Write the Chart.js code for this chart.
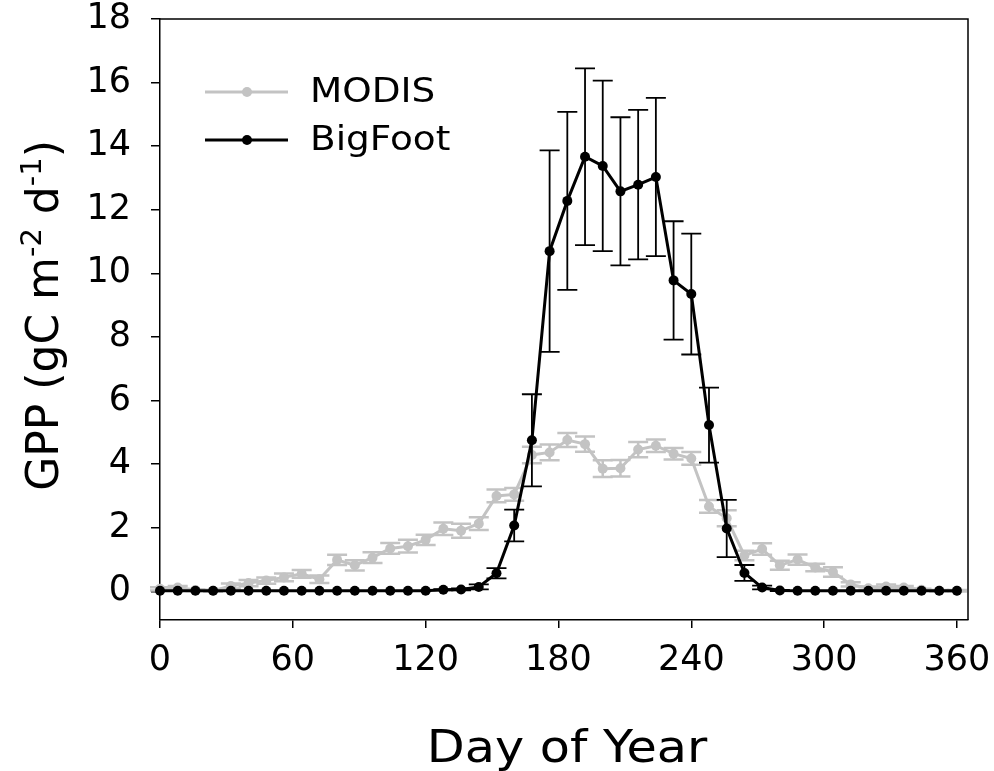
<!DOCTYPE html>
<html>
<head>
<meta charset="utf-8">
<title>GPP MODIS vs BigFoot</title>
<script src="https://cdn.jsdelivr.net/npm/chart.js@4.4.1/dist/chart.umd.min.js"></script>
<style>
  html, body { margin: 0; padding: 0; background: #fff; }
  #wrap { width: 994px; height: 771px; }
</style>
</head>
<body>
<div id="wrap"><canvas id="chart" width="994" height="771"></canvas></div>
<script>
// 8-day composites, day of year
const days = [0, 8, 16, 24, 32, 40, 48, 56, 64, 72, 80, 88, 96, 104, 112, 120,
  128, 136, 144, 152, 160, 168, 176, 184, 192, 200, 208, 216, 224, 232, 240,
  248, 256, 264, 272, 280, 288, 296, 304, 312, 320, 328, 336, 344, 352, 360];

const modisGpp = [0.08, 0.12, 0.04, 0.02, 0.17, 0.26, 0.34, 0.44, 0.55, 0.38, 0.99, 0.82, 1.06, 1.35, 1.42, 1.62,
  1.97, 1.91, 2.13, 3.00, 3.05, 4.29, 4.37, 4.76, 4.63, 3.86, 3.87, 4.46, 4.58, 4.33, 4.18,
  2.67, 2.30, 1.13, 1.33, 0.82, 1.00, 0.75, 0.61, 0.22, 0.10, 0.15, 0.12, 0.05, 0.02, 0.02];
const modisErr = [0.05, 0.05, 0.03, 0.03, 0.08, 0.10, 0.10, 0.12, 0.12, 0.12, 0.16, 0.16, 0.17, 0.17, 0.20, 0.16,
  0.20, 0.22, 0.20, 0.20, 0.20, 0.26, 0.25, 0.22, 0.24, 0.26, 0.26, 0.24, 0.20, 0.18, 0.20,
  0.20, 0.25, 0.15, 0.18, 0.14, 0.16, 0.12, 0.15, 0.07, 0.05, 0.07, 0.05, 0.03, 0.02, 0.02];

const bigfootGpp = [0.02, 0.02, 0.02, 0.02, 0.02, 0.02, 0.02, 0.02, 0.02, 0.02, 0.02, 0.02, 0.02, 0.02, 0.02, 0.02,
  0.05, 0.06, 0.14, 0.57, 2.07, 4.75, 10.70, 12.28, 13.67, 13.38, 12.58, 12.79, 13.03, 9.78, 9.35,
  5.23, 1.98, 0.58, 0.12, 0.03, 0.02, 0.02, 0.02, 0.02, 0.02, 0.02, 0.02, 0.02, 0.02, 0.02];
const bigfootErr = [0, 0, 0, 0, 0, 0, 0, 0, 0, 0, 0, 0, 0, 0, 0, 0,
  0.02, 0.03, 0.08, 0.16, 0.50, 1.45, 3.17, 2.80, 2.78, 2.68, 2.33, 2.35, 2.49, 1.86, 1.90,
  1.18, 0.90, 0.25, 0.06, 0.02, 0, 0, 0, 0, 0, 0, 0, 0, 0, 0];

const xTicks = [0, 60, 120, 180, 240, 300, 360];
const yTicks = [0, 2, 4, 6, 8, 10, 12, 14, 16, 18];

const FONT = "'DejaVu Sans', Verdana, sans-serif";
const GREY = '#c3c3c3';

function toPoints(vals) {
  return days.map((d, i) => ({ x: d, y: vals[i] }));
}

// draws the error bars of a dataset just before its line
const errorBars = {
  id: 'errorBars',
  beforeDatasetDraw(chart, args) {
    const ds = chart.data.datasets[args.index];
    if (!ds.errors) return;
    const xs = chart.scales.x, ys = chart.scales.y, ctx = chart.ctx;
    const cap = ds.capHalf;
    ctx.save();
    ctx.strokeStyle = ds.errorColor;
    ctx.lineWidth = ds.errorWidth;
    ds.data.forEach((p, i) => {
      const e = ds.errors[i];
      if (!e) return;
      const px = xs.getPixelForValue(p.x);
      const top = ys.getPixelForValue(p.y + e);
      const bot = ys.getPixelForValue(p.y - e);
      ctx.beginPath();
      ctx.moveTo(px, top); ctx.lineTo(px, bot);
      ctx.moveTo(px - cap, top); ctx.lineTo(px + cap, top);
      ctx.moveTo(px - cap, bot); ctx.lineTo(px + cap, bot);
      ctx.stroke();
    });
    ctx.restore();
  }
};

// frame, axis titles and legend
const decorations = {
  id: 'decorations',
  afterDraw(chart) {
    const ctx = chart.ctx, a = chart.chartArea;
    ctx.save();
    ctx.strokeStyle = '#000';
    ctx.lineWidth = 1.5;
    ctx.beginPath();
    ctx.moveTo(a.left, a.top);
    ctx.lineTo(a.right, a.top);
    ctx.lineTo(a.right, a.bottom);
    ctx.stroke();

    ctx.fillStyle = '#000';
    // x title (the original lettering is a bit wider than DejaVu)
    ctx.save();
    ctx.font = '44px ' + FONT;
    ctx.textAlign = 'center';
    ctx.textBaseline = 'alphabetic';
    ctx.translate((a.left + a.right) / 2 + 3, 762);
    ctx.scale(1.12, 1);
    ctx.fillText('Day of Year', 0, 0);
    ctx.restore();

    // y title with superscripts
    const parts = [['GPP (gC m', false], ['-2', true], [' d', false], ['-1', true], [')', false]];
    const big = '44px ' + FONT, small = '29px ' + FONT;
    let total = 0;
    parts.forEach(p => { ctx.font = p[1] ? small : big; total += ctx.measureText(p[0]).width; });
    ctx.translate(58, (a.top + a.bottom) / 2 - 4);
    ctx.rotate(-Math.PI / 2);
    ctx.textAlign = 'left';
    let cx = -total / 2;
    parts.forEach(p => {
      ctx.font = p[1] ? small : big;
      ctx.fillText(p[0], cx, p[1] ? -17 : 0);
      cx += ctx.measureText(p[0]).width;
    });
    ctx.restore();

    // legend
    ctx.save();
    const items = [['MODIS', GREY, 92], ['BigFoot', '#000', 140]];
    ctx.font = '34px ' + FONT;
    ctx.textBaseline = 'middle';
    items.forEach(([label, color, y]) => {
      ctx.strokeStyle = color;
      ctx.fillStyle = color;
      ctx.lineWidth = 3;
      ctx.beginPath();
      ctx.moveTo(a.left + 45, y);
      ctx.lineTo(a.left + 128, y);
      ctx.stroke();
      ctx.beginPath();
      ctx.arc(a.left + 87, y, 5, 0, Math.PI * 2);
      ctx.fill();
      ctx.fillStyle = '#000';
      ctx.save();
      ctx.translate(a.left + 150, y + 1);
      ctx.scale(1.1, 1);
      ctx.fillText(label, 0, 0);
      ctx.restore();
    });
    ctx.restore();
  }
};

new Chart(document.getElementById('chart'), {
  type: 'line',
  data: {
    datasets: [
      {
        label: 'MODIS',
        data: toPoints(modisGpp),
        errors: modisErr,
        errorColor: GREY,
        errorWidth: 2.5,
        capHalf: 10,
        borderColor: GREY,
        backgroundColor: GREY,
        borderWidth: 3,
        pointRadius: 5,
        pointBorderWidth: 0,
        tension: 0,
        clip: false,
        order: 2
      },
      {
        label: 'BigFoot',
        data: toPoints(bigfootGpp),
        errors: bigfootErr,
        errorColor: '#000',
        errorWidth: 1.8,
        capHalf: 10,
        borderColor: '#000',
        backgroundColor: '#000',
        borderWidth: 3,
        pointRadius: 5,
        pointBorderWidth: 0,
        tension: 0,
        clip: false,
        order: 1
      }
    ]
  },
  options: {
    responsive: false,
    animation: false,
    events: [],
    layout: { padding: { top: 19, right: 26, left: 0, bottom: 0 } },
    plugins: { legend: { display: false }, tooltip: { enabled: false } },
    scales: {
      x: {
        type: 'linear',
        min: 0,
        max: 365,
        afterBuildTicks: s => { s.ticks = xTicks.map(v => ({ value: v })); },
        afterFit: s => { s.height = 151; s.paddingLeft = 0; s.paddingRight = 0; },
        grid: { display: true, drawOnChartArea: false, drawTicks: true, tickLength: 8, color: '#000', lineWidth: 1.5 },
        border: { display: true, color: '#000', width: 1.5 },
        ticks: { color: '#000', font: { family: FONT, size: 35 }, padding: 12, maxRotation: 0 }
      },
      y: {
        type: 'linear',
        min: -0.9,
        max: 18,
        afterBuildTicks: s => { s.ticks = yTicks.map(v => ({ value: v })); },
        afterFit: s => { s.width = 160; s.paddingTop = 0; s.paddingBottom = 0; },
        grid: { display: true, drawOnChartArea: false, drawTicks: true, tickLength: 9, color: '#000', lineWidth: 1.5 },
        border: { display: true, color: '#000', width: 1.5 },
        ticks: { color: '#000', font: { family: FONT, size: 35 }, padding: 20 }
      }
    }
  },
  plugins: [errorBars, decorations]
});
</script>
</body>
</html>
